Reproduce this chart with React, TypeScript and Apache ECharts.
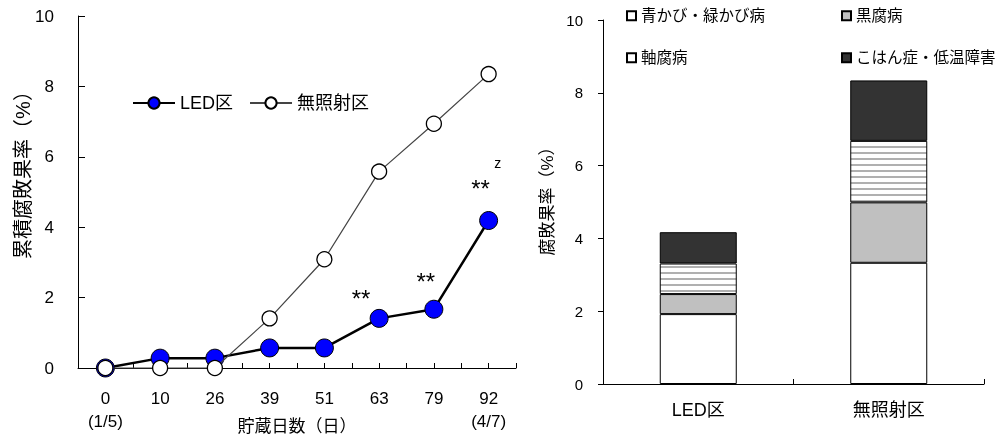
import React, { useEffect, useRef } from 'react';
import * as echarts from 'echarts';

const FONT = "'Liberation Sans', 'Noto Sans CJK JP', sans-serif";

// Left chart: cumulative decay rate (%) by storage days
const storageDays = ['0', '10', '26', '39', '51', '63', '79', '92'];
const storageDates = ['1/5', '', '', '', '', '', '', '4/7'];
const ledRate = [0, 0.28, 0.28, 0.57, 0.57, 1.41, 1.67, 4.19];
const controlRate = [0, 0, 0, 1.41, 3.09, 5.58, 6.94, 8.35];
const significance = ['', '', '', '', '', '**', '**', '**'];
const footnoteMark = 'z';
const footnoteIndex = 7;
const yTicksLeft = [0, 2, 4, 6, 8, 10];

// Right chart: decay rate (%) by disease type
const plots = ['LED区', '無照射区'];
const blueGreenMold = [1.92, 3.33];
const blackRot = [0.55, 1.66];
const stemEndRot = [0.84, 1.69];
const pittingChill = [0.86, 1.66];

export default function App() {
  const ref = useRef<HTMLDivElement>(null);

  useEffect(() => {
    const chart = echarts.init(ref.current!, null, { renderer: 'svg' });

    const cv = document.createElement('canvas');
    cv.width = 4;
    cv.height = 6;
    const ctx = cv.getContext('2d')!;
    ctx.fillStyle = '#ffffff';
    ctx.fillRect(0, 0, 4, 6);
    ctx.fillStyle = '#b0b0b0';
    ctx.fillRect(0, 2, 4, 2);
    const stripe: any = { image: cv, repeat: 'repeat', imageWidth: 4, imageHeight: 6 };

    const sigOffsets: Record<number, number[]> = { 5: [-18, -20], 6: [-8, -28], 7: [-8, -32] };

    const black = '#000';

    const option: any = {
      animation: false,
      textStyle: { fontFamily: FONT, color: black },
      grid: [
        { left: 78, top: 16, right: 481, bottom: 68, containLabel: false, outerBoundsMode: 'none' },
        { left: 603, top: 20, right: 13, bottom: 52, containLabel: false, outerBoundsMode: 'none' },
      ],
      legend: [
        {
          data: ['LED区', '無照射区'],
          left: 132,
          top: 94,
          padding: 0,
          itemWidth: 42,
          itemHeight: 14,
          itemGap: 16,
          selectedMode: false,
          textStyle: { fontSize: 18, color: black, fontFamily: FONT },
        },
        ...[
          { name: '青かび・緑かび病', left: 626, top: 8 },
          { name: '黒腐病', left: 841, top: 8 },
          { name: '軸腐病', left: 626, top: 50, white: true },
          { name: 'こはん症・低温障害', left: 841, top: 50 },
        ].map((l) => ({
          data: [l.white ? { name: l.name, itemStyle: { color: '#ffffff' } } : { name: l.name }],
          left: l.left,
          top: l.top,
          padding: 0,
          icon: 'rect',
          itemWidth: 9,
          itemHeight: 9,
          selectedMode: false,
          textStyle: { fontSize: 15.5, color: black, fontFamily: FONT },
        })),
      ],
      xAxis: [
        {
          type: 'category',
          gridIndex: 0,
          position: 'bottom',
          data: storageDays,
          boundaryGap: true,
          name: '貯蔵日数（日）',
          nameLocation: 'middle',
          nameGap: 50,
          nameMoveOverlap: false,
          nameTextStyle: { fontSize: 17, color: black },
          axisLine: { show: true, lineStyle: { color: black, width: 1 } },
          axisTick: { show: true, inside: true, length: 5, interval: 0, lineStyle: { color: black } },
          axisLabel: {
            fontSize: 17,
            color: black,
            lineHeight: 23,
            margin: 19,
            interval: 0,
            formatter: (v: string, i: number) => (storageDates[i] ? `${v}\n(${storageDates[i]})` : v),
          },
          splitLine: { show: false },
        },
        {
          type: 'category',
          gridIndex: 0,
          position: 'bottom',
          data: storageDays,
          boundaryGap: true,
          axisLine: { show: false },
          axisTick: { show: true, inside: true, length: 5, interval: 0, alignWithLabel: true, lineStyle: { color: black } },
          axisLabel: { show: false },
          splitLine: { show: false },
        },
        {
          type: 'category',
          gridIndex: 1,
          position: 'bottom',
          data: plots,
          boundaryGap: true,
          axisLine: { show: true, lineStyle: { color: black, width: 1 } },
          axisTick: { show: true, inside: true, length: 5, interval: 0, lineStyle: { color: black } },
          axisLabel: { fontSize: 18, color: black, margin: 17, interval: 0 },
          splitLine: { show: false },
        },
      ],
      yAxis: [
        {
          type: 'value',
          gridIndex: 0,
          min: yTicksLeft[0],
          max: yTicksLeft[yTicksLeft.length - 1],
          interval: 2,
          name: '累積腐敗果率（%）',
          nameLocation: 'middle',
          nameGap: 45,
          nameRotate: 90,
          nameMoveOverlap: false,
          nameTextStyle: { fontSize: 20, color: black, padding: [0, 0, 0, 44] },
          axisLine: { show: true, lineStyle: { color: black, width: 1 } },
          axisTick: { show: true, inside: true, length: 7, lineStyle: { color: black } },
          axisLabel: { fontSize: 17, color: black, margin: 24 },
          splitLine: { show: false },
        },
        {
          type: 'value',
          gridIndex: 1,
          min: 0,
          max: 10,
          interval: 2,
          name: '腐敗果率（%）',
          nameLocation: 'middle',
          nameGap: 47,
          nameRotate: 90,
          nameMoveOverlap: false,
          nameTextStyle: { fontSize: 17, color: black, padding: [0, 0, 0, 10] },
          axisLine: { show: true, lineStyle: { color: black, width: 1 } },
          axisTick: { show: true, inside: false, length: 5, lineStyle: { color: black } },
          axisLabel: { fontSize: 15, color: black, margin: 20 },
          splitLine: { show: false },
        },
      ],
      series: [
        {
          type: 'line',
          name: 'LED区',
          xAxisIndex: 0,
          yAxisIndex: 0,
          clip: false,
          symbol: 'circle',
          symbolSize: 18,
          itemStyle: { color: '#0000ff', borderColor: black, borderWidth: 1 },
          lineStyle: { color: black, width: 2.5 },
          emphasis: { disabled: true },
          silent: true,
          label: { show: false, position: 'inside', fontSize: 24, color: black, fontFamily: FONT },
          data: ledRate.map((v, i) =>
            significance[i]
              ? { value: v, label: { show: true, formatter: significance[i], offset: sigOffsets[i] || [0, -25] } }
              : { value: v }
          ),
          markPoint: {
            symbol: 'circle',
            symbolSize: 0,
            silent: true,
            data: [
              {
                coord: [footnoteIndex, ledRate[footnoteIndex]],
                label: { show: true, position: 'inside', formatter: footnoteMark, fontSize: 14, color: black, offset: [9, -58] },
              },
            ],
          },
          z: 2,
        },
        {
          type: 'line',
          name: '無照射区',
          xAxisIndex: 0,
          yAxisIndex: 0,
          clip: false,
          symbol: 'circle',
          symbolSize: 15,
          itemStyle: { color: '#ffffff', borderColor: black, borderWidth: 1.3 },
          lineStyle: { color: '#444', width: 1.2 },
          emphasis: { disabled: true },
          silent: true,
          data: controlRate,
          z: 3,
        },
        ...[
          { name: '青かび・緑かび病', data: blueGreenMold, color: '#ffffff' },
          { name: '黒腐病', data: blackRot, color: '#c0c0c0' },
          { name: '軸腐病', data: stemEndRot, color: stripe },
          { name: 'こはん症・低温障害', data: pittingChill, color: '#333333' },
        ].map((s) => ({
          type: 'bar',
          name: s.name,
          xAxisIndex: 2,
          yAxisIndex: 1,
          stack: 'total',
          barWidth: 77,
          data: s.data,
          itemStyle: { color: s.color, borderColor: black, borderWidth: 1 },
          emphasis: { disabled: true },
          silent: true,
        })),
      ],
    };

    chart.setOption(option);
    return () => chart.dispose();
  }, []);

  return <div ref={ref} style={{ position: 'fixed', left: 0, top: 0, width: 997, height: 436 }} />;
}
